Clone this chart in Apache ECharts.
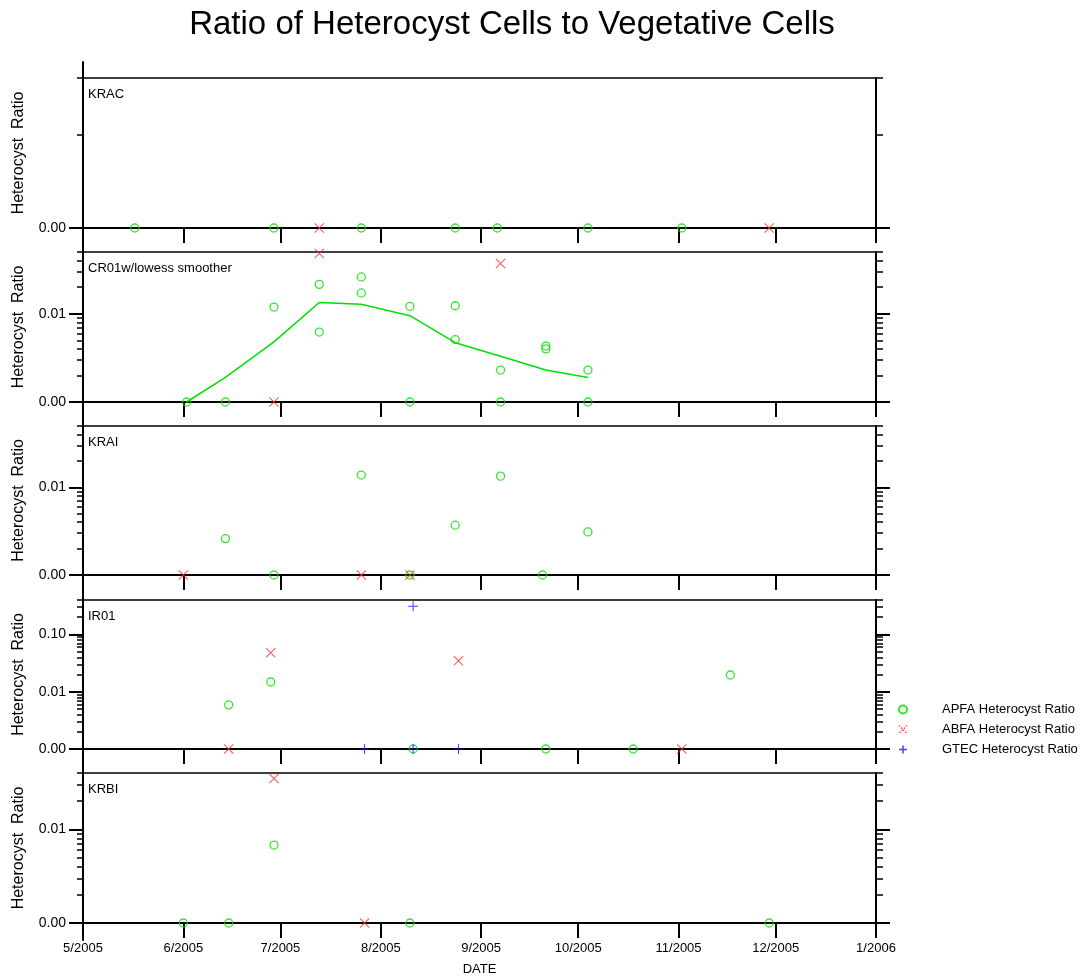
<!DOCTYPE html>
<html>
<head>
<meta charset="utf-8">
<title>Ratio of Heterocyst Cells to Vegetative Cells</title>
<script src="https://cdn.jsdelivr.net/npm/echarts@6/dist/echarts.min.js"></script>
<style>
  html, body { margin: 0; padding: 0; background: #fff; }
  #chart { width: 1083px; height: 979px; }
</style>
</head>
<body>
<div id="chart"></div>
<script>
// ---- data -------------------------------------------------------------
const monthTicks = ['2005-05-01', '2005-06-01', '2005-07-01', '2005-08-01', '2005-09-01',
                    '2005-10-01', '2005-11-01', '2005-12-01', '2006-01-01'];

const stationNames = ['KRAC', 'CR01w/lowess smoother', 'KRAI', 'IR01', 'KRBI'];
const rangeMax = [0.04, 0.05, 0.05, 0.4, 0.04];

const majorTicks = [
  [0.001],
  [0.001, 0.01],
  [0.001, 0.01],
  [0.001, 0.01, 0.1],
  [0.001, 0.01]
];
const minorTicks = [
  [0.01, 0.04],
  [0.002, 0.003, 0.004, 0.005, 0.006, 0.007, 0.008, 0.009, 0.02, 0.03, 0.04, 0.05],
  [0.002, 0.003, 0.004, 0.005, 0.006, 0.007, 0.008, 0.009, 0.02, 0.03, 0.04, 0.05],
  [0.002, 0.003, 0.004, 0.005, 0.006, 0.007, 0.008, 0.009,
   0.02, 0.03, 0.04, 0.05, 0.06, 0.07, 0.08, 0.09, 0.2, 0.3, 0.4],
  [0.002, 0.003, 0.004, 0.005, 0.006, 0.007, 0.008, 0.009, 0.02, 0.03, 0.04]
];

// ratios of 0.001 sit on the floor of the log axis
const kracApfa = [['2005-05-17', 0.001], ['2005-06-29', 0.001], ['2005-07-26', 0.001], ['2005-08-24', 0.001],
                  ['2005-09-06', 0.001], ['2005-10-04', 0.001], ['2005-11-02', 0.001]];
const kracAbfa = [['2005-07-13', 0.001], ['2005-11-29', 0.001]];

const cr01Apfa = [['2005-06-02', 0.001], ['2005-06-14', 0.001], ['2005-06-29', 0.0119],
                  ['2005-07-13', 0.0215], ['2005-07-13', 0.0062], ['2005-07-26', 0.0261], ['2005-07-26', 0.0172],
                  ['2005-08-10', 0.0121], ['2005-08-10', 0.001], ['2005-08-24', 0.0123], ['2005-08-24', 0.0051],
                  ['2005-09-07', 0.0023], ['2005-09-07', 0.001], ['2005-09-21', 0.0043], ['2005-09-21', 0.0040],
                  ['2005-10-04', 0.0023], ['2005-10-04', 0.001]];
const cr01Abfa = [['2005-06-29', 0.001], ['2005-07-13', 0.048], ['2005-09-07', 0.037]];
const cr01Lowess = [['2005-06-02', 0.001], ['2005-06-14', 0.0019], ['2005-06-29', 0.0048], ['2005-07-13', 0.0134],
                    ['2005-07-26', 0.0128], ['2005-08-10', 0.0095], ['2005-08-24', 0.0047], ['2005-09-07', 0.0033],
                    ['2005-09-21', 0.0023], ['2005-10-04', 0.0019]];

const kraiApfa = [['2005-06-14', 0.0026], ['2005-06-29', 0.001], ['2005-07-26', 0.0138], ['2005-08-10', 0.001],
                  ['2005-08-24', 0.0037], ['2005-09-07', 0.0134], ['2005-09-20', 0.001], ['2005-10-04', 0.0031]];
const kraiAbfa = [['2005-06-01', 0.001], ['2005-07-26', 0.001], ['2005-08-10', 0.001]];

const ir01Apfa = [['2005-06-15', 0.0059], ['2005-06-28', 0.0148], ['2005-08-11', 0.001], ['2005-09-21', 0.001],
                  ['2005-10-18', 0.001], ['2005-11-17', 0.0196]];
const ir01Abfa = [['2005-06-15', 0.001], ['2005-06-28', 0.048], ['2005-08-25', 0.0348], ['2005-11-02', 0.001]];
const ir01Gtec = [['2005-07-27', 0.001], ['2005-08-11', 0.31], ['2005-08-11', 0.001], ['2005-08-25', 0.001]];

const krbiApfa = [['2005-06-01', 0.001], ['2005-06-15', 0.001], ['2005-06-29', 0.0068], ['2005-08-10', 0.001],
                  ['2005-11-29', 0.001]];
const krbiAbfa = [['2005-06-29', 0.0349], ['2005-07-27', 0.001]];

const panels = [
  { apfa: kracApfa, abfa: kracAbfa },
  { apfa: cr01Apfa, abfa: cr01Abfa, smooth: cr01Lowess },
  { apfa: kraiApfa, abfa: kraiAbfa },
  { apfa: ir01Apfa, abfa: ir01Abfa, gtec: ir01Gtec },
  { apfa: krbiApfa, abfa: krbiAbfa }
];

// ---- layout & styles --------------------------------------------------
const FONT = '"Liberation Sans", Arial, Helvetica, sans-serif';
const GREEN = '#00e000';
const RED = '#ff2a2a';
const BLUE = '#1010ff';
const CLEAR = 'rgba(0,0,0,0)';
// thin filled outlines of an "x" and a "+" (10 x 10 box)
const CROSS = 'path://M0,0.7L0.7,0L5,4.3L9.3,0L10,0.7L5.7,5L10,9.3L9.3,10L5,5.7L0.7,10L0,9.3L4.3,5Z';
const PLUS = 'path://M4.5,0L5.5,0L5.5,4.5L10,4.5L10,5.5L5.5,5.5L5.5,10L4.5,10L4.5,5.5L0,5.5L0,4.5L4.5,4.5Z';
const gridTops = [78, 252, 426, 600, 773];
const gridHeights = [150, 150, 149, 149, 150];
const GRID_LEFT = 83, GRID_RIGHT = 207;

// dates become timestamps on a numeric x axis
const toTime = s => echarts.time.parse(s).getTime();
const toPoints = rows => rows.map(r => [toTime(r[0]), r[1]]);
const monthValues = monthTicks.map(toTime);
const tMin = monthValues[0];
const tMax = monthValues[monthValues.length - 1];
const fmtMonth = v => { const d = new Date(v); return (d.getMonth() + 1) + '/' + d.getFullYear(); };

const grids = [], xAxes = [], yAxes = [], series = [], titles = [];

titles.push({
  text: 'Ratio of Heterocyst Cells to Vegetative Cells',
  left: 512, top: 8, textAlign: 'center', padding: 0,
  textStyle: { fontFamily: FONT, fontSize: 33, fontWeight: 'normal', color: '#000' }
});

panels.forEach((pn, p) => {
  const last = p === panels.length - 1;
  grids.push({ left: GRID_LEFT, right: GRID_RIGHT, top: gridTops[p], height: gridHeights[p],
               containLabel: false, outerBoundsMode: 'none' });

  // baseline axis with month ticks
  xAxes.push({
    type: 'value', gridIndex: p, position: 'bottom', min: tMin, max: tMax,
    axisLine: { show: true, onZero: false, lineStyle: { color: '#000', width: 2 } },
    axisTick: { show: true, customValues: monthValues, length: 15, lineStyle: { color: '#000', width: 2 } },
    axisLabel: { show: last, customValues: monthValues, formatter: fmtMonth, margin: 19,
                 showMinLabel: true, showMaxLabel: true, hideOverlap: false,
                 fontFamily: FONT, fontSize: 13, color: '#000' },
    splitLine: { show: false },
    name: last ? 'DATE' : '', nameLocation: 'middle', nameGap: 40,
    nameTextStyle: { fontFamily: FONT, fontSize: 13, color: '#000' }
  });
  // frame line on top
  xAxes.push({
    type: 'value', gridIndex: p, position: 'top', min: tMin, max: tMax,
    axisLine: { show: true, onZero: false, lineStyle: { color: '#000', width: 1.5 } },
    axisTick: { show: false }, axisLabel: { show: false }, splitLine: { show: false }
  });

  const base = { type: 'log', logBase: 10, gridIndex: p, min: 0.001, max: rangeMax[p],
                 splitLine: { show: false }, minorTick: { show: false } };
  // left: major ticks, labels, title
  yAxes.push(Object.assign({}, base, {
    position: 'left',
    axisLine: { show: true, onZero: false, lineStyle: { color: '#000', width: 2 } },
    axisTick: { show: true, customValues: majorTicks[p], length: 14, lineStyle: { color: '#000', width: 2 } },
    axisLabel: { show: true, customValues: majorTicks[p], formatter: v => Number(v).toFixed(2), margin: 17,
                 fontFamily: FONT, fontSize: 14, color: '#000' },
    name: 'Heterocyst  Ratio', nameLocation: 'middle', nameRotate: 90, nameGap: 56,
    nameTextStyle: { fontFamily: FONT, fontSize: 16, color: '#000' }
  }));
  // left: minor ticks
  yAxes.push(Object.assign({}, base, {
    position: 'left',
    axisLine: { show: false },
    axisTick: { show: true, customValues: minorTicks[p], length: 6, lineStyle: { color: '#000', width: 1.5 } },
    axisLabel: { show: false }
  }));
  // right: major ticks
  yAxes.push(Object.assign({}, base, {
    position: 'right',
    axisLine: { show: true, onZero: false, lineStyle: { color: '#000', width: 2 } },
    axisTick: { show: true, customValues: majorTicks[p], length: 14, lineStyle: { color: '#000', width: 2 } },
    axisLabel: { show: false }
  }));
  // right: minor ticks
  yAxes.push(Object.assign({}, base, {
    position: 'right',
    axisLine: { show: false },
    axisTick: { show: true, customValues: minorTicks[p], length: 7, lineStyle: { color: '#000', width: 1.5 } },
    axisLabel: { show: false }
  }));

  titles.push({
    text: stationNames[p], left: 88, top: gridTops[p] + 10, padding: 0,
    textStyle: { fontFamily: FONT, fontSize: 13, fontWeight: 'normal', color: '#000' }
  });

  const xi = 2 * p, yi = 4 * p;
  const common = { xAxisIndex: xi, yAxisIndex: yi, clip: false, silent: true, emphasis: { disabled: true } };
  if (pn.smooth) {
    series.push(Object.assign({
      type: 'line', name: 'lowess smoother', data: toPoints(pn.smooth),
      symbol: 'none', showSymbol: false, lineStyle: { color: GREEN, width: 1.5 }, z: 2
    }, common));
  }
  series.push(Object.assign({
    type: 'scatter', name: 'APFA Heterocyst Ratio', data: toPoints(pn.apfa),
    symbol: 'circle', symbolSize: 8, z: 3,
    itemStyle: { color: CLEAR, borderColor: GREEN, borderWidth: 1.3 }
  }, common));
  series.push(Object.assign({
    type: 'scatter', name: 'ABFA Heterocyst Ratio', data: toPoints(pn.abfa),
    symbol: CROSS, symbolSize: 10, z: 4,
    itemStyle: { color: RED, borderWidth: 0 }
  }, common));
  if (pn.gtec) {
    series.push(Object.assign({
      type: 'scatter', name: 'GTEC Heterocyst Ratio', data: toPoints(pn.gtec),
      symbol: PLUS, symbolSize: 10, z: 4,
      itemStyle: { color: BLUE, borderWidth: 0 }
    }, common));
  }
});

// continuous left spine running through every panel
grids.push({ left: GRID_LEFT, right: GRID_RIGHT, top: 62, height: 878, containLabel: false, outerBoundsMode: 'none' });
xAxes.push({ type: 'value', gridIndex: 5, show: false });
yAxes.push({
  type: 'value', gridIndex: 5, position: 'left',
  axisLine: { show: true, onZero: false, lineStyle: { color: '#000', width: 2 } },
  axisTick: { show: false }, axisLabel: { show: false }, splitLine: { show: false }
});

const chart = echarts.init(document.getElementById('chart'), null, { renderer: 'canvas' });
chart.setOption({
  animation: false,
  backgroundColor: '#fff',
  tooltip: { show: false },
  title: titles,
  grid: grids,
  xAxis: xAxes,
  yAxis: yAxes,
  legend: {
    orient: 'vertical', left: 893, top: 697, itemWidth: 8, itemHeight: 8, itemGap: 5,
    selectedMode: false,
    textStyle: { fontFamily: FONT, fontSize: 13, lineHeight: 15, color: '#000', padding: [0, 0, 0, 30] },
    data: [
      { name: 'APFA Heterocyst Ratio', icon: 'circle',
        itemStyle: { color: CLEAR, borderColor: GREEN, borderWidth: 2 } },
      { name: 'ABFA Heterocyst Ratio', icon: 'path://M0,0L10,10M10,0L0,10',
        itemStyle: { color: CLEAR, borderColor: RED, borderWidth: 1.5, borderType: 'dotted' } },
      { name: 'GTEC Heterocyst Ratio', icon: 'path://M5,0L5,10M0,5L10,5',
        itemStyle: { color: CLEAR, borderColor: BLUE, borderWidth: 1.5 } }
    ]
  },
  series: series
});
</script>
</body>
</html>
